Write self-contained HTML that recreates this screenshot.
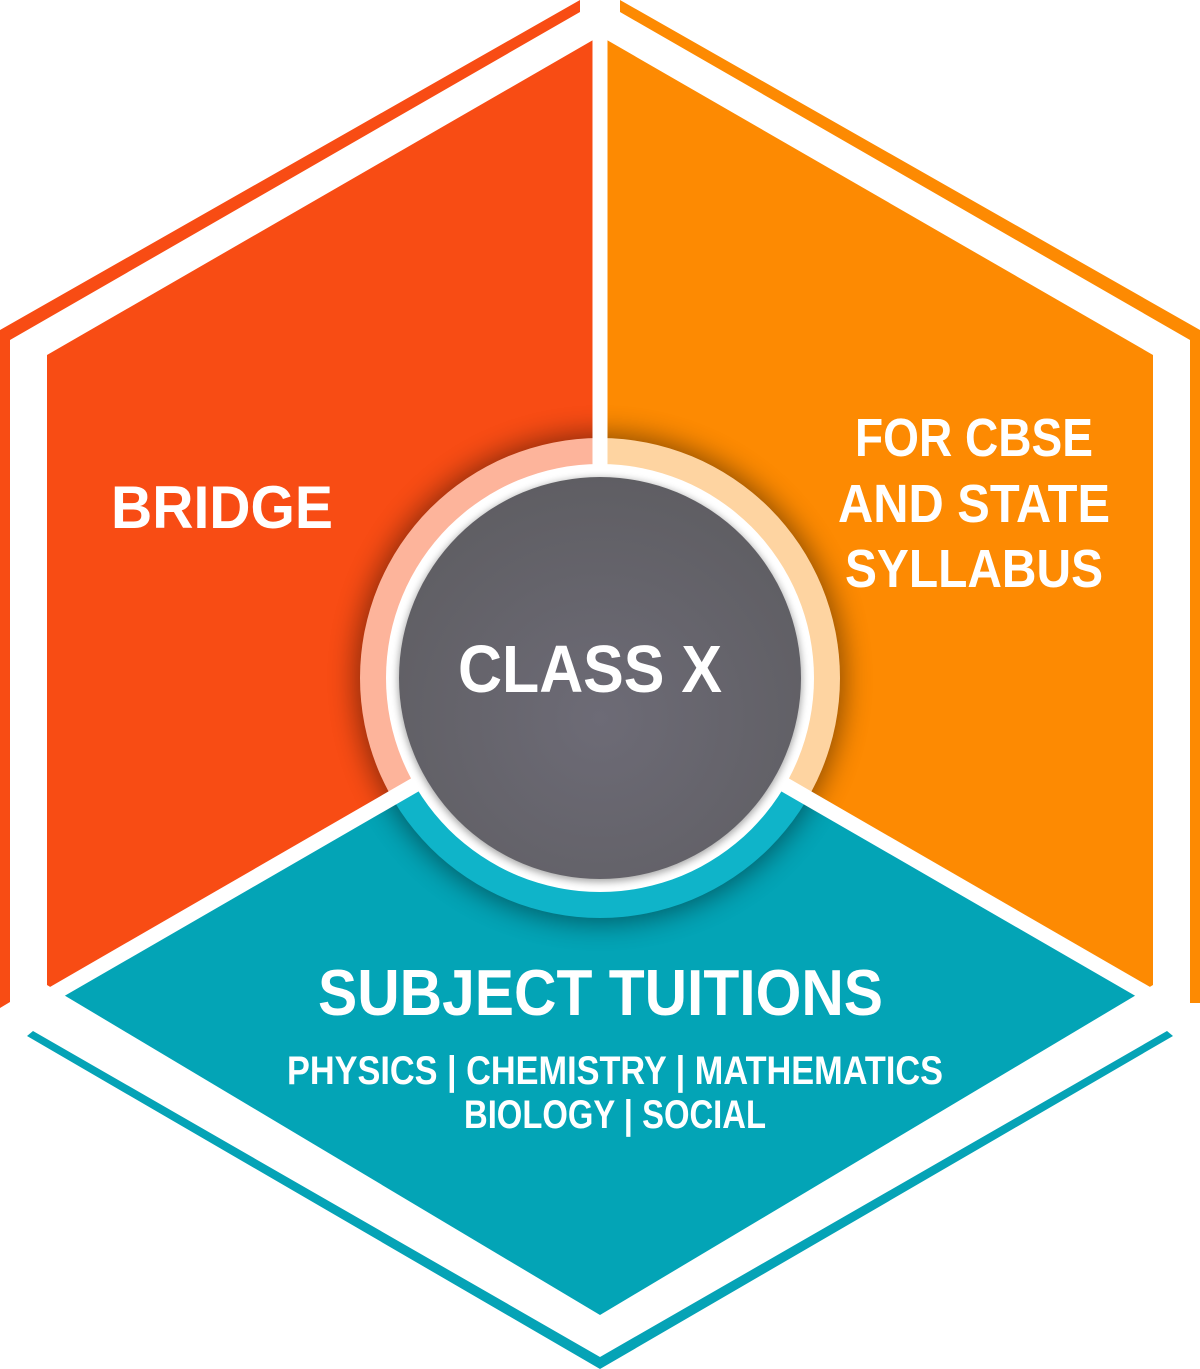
<!DOCTYPE html>
<html><head><meta charset="utf-8"><style>
html,body{margin:0;padding:0;background:#fff;width:1200px;height:1369px;overflow:hidden;}
svg{display:block;}
text{font-family:"Liberation Sans",sans-serif;font-weight:bold;fill:#fff;}
</style></head><body>
<svg width="1200" height="1369" viewBox="0 0 1200 1369" xmlns="http://www.w3.org/2000/svg">
<defs>
<clipPath id="hex"><polygon points="47,355 600,36 1153,355 1153,985 600,1315 47,985"/></clipPath>
<clipPath id="ring"><circle cx="600" cy="678" r="240"/></clipPath>
<radialGradient id="dg" cx="0.5" cy="0.6" r="0.6">
<stop offset="0" stop-color="#6d6b76"/><stop offset="1" stop-color="#5f5e63"/></radialGradient>
<filter id="sh" x="-30%" y="-30%" width="160%" height="160%"><feGaussianBlur stdDeviation="14"/></filter>
<filter id="sh2" x="-30%" y="-30%" width="160%" height="160%"><feGaussianBlur stdDeviation="4"/></filter>
</defs>
<polygon points="0,330 580,0 580,12 10,340 10,1002 0,1008" fill="#f84c14"/>
<polygon points="620,0 1200,330 1200,1003 1190,1003 1190,340 620,12" fill="#fd8a02"/>
<polygon points="27,1036 33,1031 600,1357 1167,1031 1173,1036 600,1369" fill="#05a3b6"/>
<g clip-path="url(#hex)">
<polygon points="600,678 600,-100 -200,-100 -200,1140" fill="#f84c14"/>
<polygon points="600,678 600,-100 1400,-100 1400,1140" fill="#fd8a02"/>
<polygon points="600,678 -200,1140 600,1600 1400,1140" fill="#03a4b6"/>
<circle cx="600" cy="678" r="244" fill="#000" opacity="0.45" filter="url(#sh)"/>
</g>
<g clip-path="url(#ring)">
<polygon points="600,678 600,-100 -200,-100 -200,1140" fill="#fdb49b"/>
<polygon points="600,678 600,-100 1400,-100 1400,1140" fill="#fed4a1"/>
<polygon points="600,678 -200,1140 600,1600 1400,1140" fill="#0fb4c9"/>
</g>
<g stroke="#fff" stroke-width="15">
<line x1="600" y1="678" x2="600" y2="0"/>
<line x1="600" y1="678" x2="-200" y2="1140"/>
<line x1="600" y1="678" x2="1400" y2="1140"/>
</g>
<circle cx="600" cy="678" r="214" fill="#fff"/>
<circle cx="600" cy="680" r="202" fill="#000" opacity="0.35" filter="url(#sh2)"/>
<circle cx="600" cy="678" r="201" fill="url(#dg)"/>
<text x="111" y="528" font-size="60" textLength="222" lengthAdjust="spacingAndGlyphs">BRIDGE</text>
<text x="855" y="456" font-size="54" textLength="238" lengthAdjust="spacingAndGlyphs">FOR CBSE</text>
<text x="838" y="522" font-size="54" textLength="272" lengthAdjust="spacingAndGlyphs">AND STATE</text>
<text x="845" y="587" font-size="54" textLength="258" lengthAdjust="spacingAndGlyphs">SYLLABUS</text>
<text x="458" y="692" font-size="67" textLength="264" lengthAdjust="spacingAndGlyphs">CLASS X</text>
<text x="318" y="1015" font-size="65" textLength="565" lengthAdjust="spacingAndGlyphs">SUBJECT TUITIONS</text>
<text x="287" y="1084" font-size="40" textLength="656" lengthAdjust="spacingAndGlyphs">PHYSICS | CHEMISTRY | MATHEMATICS</text>
<text x="464" y="1128" font-size="40" textLength="302" lengthAdjust="spacingAndGlyphs">BIOLOGY | SOCIAL</text>
</svg>
</body></html>
